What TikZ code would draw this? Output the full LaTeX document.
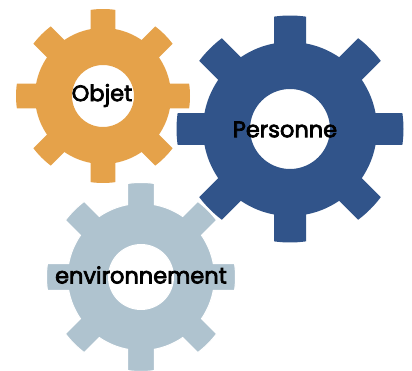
\documentclass[tikz,border=0pt]{standalone}
\usepackage{fontspec}
\setmainfont{Poppins}
\newfontfamily\labelfont{Poppins}[FakeBold=3.2]
\usetikzlibrary{calc}
\definecolor{gearorange}{HTML}{E5A24A}
\definecolor{gearblue}{HTML}{31548A}
\definecolor{geargrey}{HTML}{AFC3CF}
\tikzset{geartext/.style={font=\labelfont\fontsize{22.5}{26}\selectfont, text=black, inner sep=0pt, anchor=center}}
% #1 cx, #2 cy, #3 outer R, #4 body r, #5 hole r, #6 tooth half width, #7 style
\newcommand{\cogwheel}[7]{%
  \pgfmathsetmacro{\ho}{asin(#6/#3)}%
  \pgfmathsetmacro{\hb}{asin(#6/#4)}%
  \begin{scope}[shift={(#1pt,#2pt)}]
    \path[#7, even odd rule]
      (-\ho:#3pt)
      \foreach \a in {0,45,...,315} {
        arc[start angle=\a-\ho, end angle=\a+\ho, radius=#3pt]
        -- (\a+\hb:#4pt)
        arc[start angle=\a+\hb, end angle=\a+45-\hb, radius=#4pt]
        -- (\a+45-\ho:#3pt)
      } -- cycle
      (#5pt,0pt) arc[start angle=0, end angle=360, radius=#5pt];
  \end{scope}%
}
\begin{document}
\begin{tikzpicture}[x=1pt,y=1pt]
\useasboundingbox (0,0) rectangle (412,370);
\clip (0,0) rectangle (412,370);
\cogwheel{290}{241}{113.5}{87}{40}{16}{fill=gearblue}
\cogwheel{103}{274}{87}{68}{31}{12.3}{fill=gearorange}
\cogwheel{141}{93}{94.5}{73.5}{32.5}{13.3}{fill=geargrey, draw=white, line width=1pt}
\node[geartext] (objet) at (102,274.5) {Objet};
\node[geartext] (personne) at (285,240.5) {Personne};
\node[geartext] (env) at (141,95) {environnement};
\end{tikzpicture}
\end{document}
